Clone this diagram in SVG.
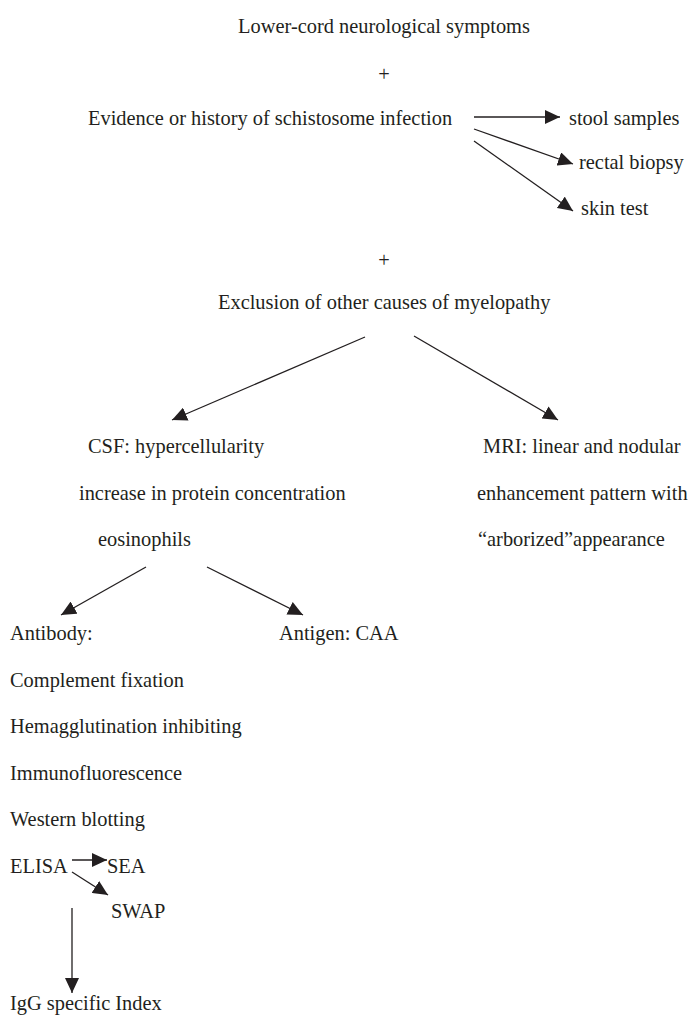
<svg xmlns="http://www.w3.org/2000/svg" width="690" height="1018" viewBox="0 0 690 1018">
<style>
text{font-family:"Liberation Serif","Times New Roman",serif;font-size:20.4px;fill:#231f20}
.c{text-anchor:middle}
.ln{stroke:#231f20;stroke-width:1.3;fill:none;marker-end:url(#ah)}
</style>
<defs>
<marker id="ah" markerUnits="userSpaceOnUse" markerWidth="16" markerHeight="14" refX="15" refY="7" orient="auto">
<path d="M0,0 L15,7 L0,14 Z" fill="#231f20"/>
</marker>
</defs>
<rect width="690" height="1018" fill="#fff"/>
<g id="connectors">
<path class="ln" d="M474,117 L560,117"/>
<path class="ln" d="M474,129 L573,164"/>
<path class="ln" d="M474,141 L573,211"/>
<path class="ln" d="M365,337 L172,420"/>
<path class="ln" d="M414,336 L558,420"/>
<path class="ln" d="M146,567 L61,615"/>
<path class="ln" d="M207,567 L303,615"/>
<path class="ln" d="M72,860 L107,860"/>
<path class="ln" d="M72,872 L108,895"/>
<path class="ln" d="M72,908 L72,993"/>
</g>
<g id="n-symptoms"><text class="c" x="384" y="33">Lower-cord neurological symptoms</text></g>
<g id="n-plus1"><text class="c" x="384" y="81">+</text></g>
<g id="n-evidence"><text x="88" y="125">Evidence or history of schistosome infection</text></g>
<g id="n-stool"><text x="569" y="125">stool samples</text></g>
<g id="n-rectal"><text x="579" y="169">rectal biopsy</text></g>
<g id="n-skin"><text x="581" y="215">skin test</text></g>
<g id="n-plus2"><text class="c" x="384" y="267">+</text></g>
<g id="n-exclusion"><text x="218" y="309">Exclusion of other causes of myelopathy</text></g>
<g id="n-csf">
<text x="88" y="453">CSF: hypercellularity</text>
<text x="79" y="500">increase in protein concentration</text>
<text x="98" y="546">eosinophils</text>
</g>
<g id="n-mri">
<text x="483" y="453">MRI: linear and nodular</text>
<text x="477" y="500">enhancement pattern with</text>
<text x="478" y="546">“arborized”appearance</text>
</g>
<g id="n-antibody">
<text x="10" y="640">Antibody:</text>
<text x="10" y="687">Complement fixation</text>
<text x="10" y="733">Hemagglutination inhibiting</text>
<text x="10" y="780">Immunofluorescence</text>
<text x="10" y="826">Western blotting</text>
<text x="10" y="873">ELISA</text>
</g>
<g id="n-antigen"><text x="279" y="640">Antigen: CAA</text></g>
<g id="n-sea"><text x="107" y="873">SEA</text></g>
<g id="n-swap"><text x="111" y="918">SWAP</text></g>
<g id="n-igg"><text x="10" y="1010">IgG specific Index</text></g>
</svg>
